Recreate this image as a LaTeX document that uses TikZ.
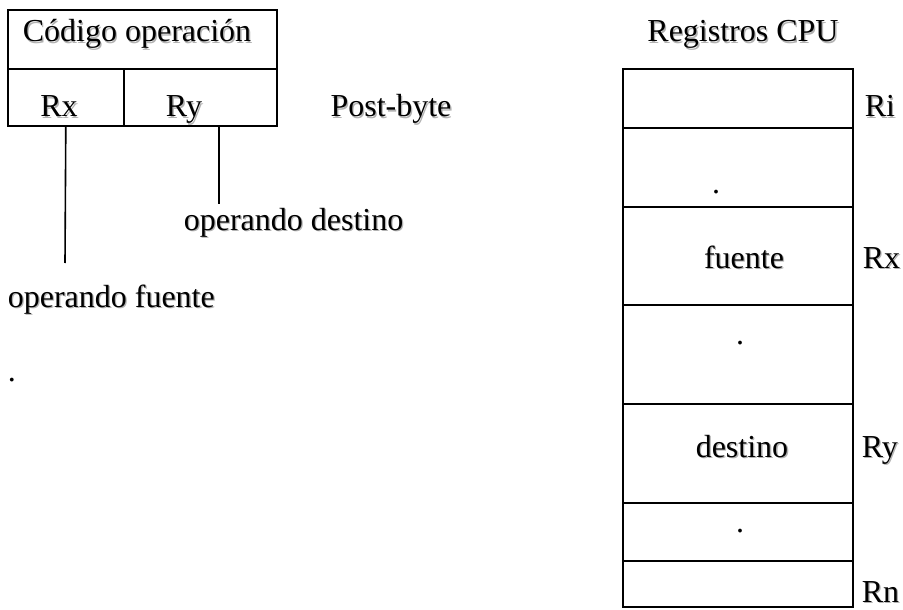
\documentclass[tikz,border=0pt]{standalone}
\usepackage{fontspec}
\setmainfont{Liberation Serif}
% text with a light drop shadow
\newcommand\shd[1]{\makebox[0pt][l]{\hspace{1.3pt}\raisebox{-1.3pt}{\color{black!30}#1}}#1}
\begin{document}
\begin{tikzpicture}[x=1pt,y=-1pt,line width=1.6pt,
  txt/.style={inner sep=0pt,anchor=base,font=\fontsize{32}{38}\selectfont},
  cell/.style={draw,inner sep=0pt,anchor=north west,minimum width=#1},
  cell/.default=230pt]
\useasboundingbox (0,0) rectangle (903,610);

% instruction format
\node[cell=269pt,minimum height=59pt] (op) at (7,9) {};
\node[cell=116pt,minimum height=57pt] (rx) at (7,68) {};
\node[cell=153pt,minimum height=57pt] (ry) at (123,68) {};
\node[txt] (optxt) at (137,42) {\shd{Código operación}};
\node[txt] (rxtxt) at (59,117) {\shd{Rx}};
\node[txt] (rytxt) at (184,117) {\shd{Ry}};
\node[txt] (post) at (391,117) {\shd{Post-byte}};

% operand pointers
\coordinate (srcend) at (65,263);
\coordinate (dstend) at (219,204);
\draw (rx.south) -- (srcend);
\draw (ry.south -| dstend) -- (dstend);
\node[txt,anchor=base west] (dst) at (183,230) {\shd{operando destino}};
\node[txt,anchor=base west] (src) at (7,307) {\shd{operando fuente}};
\node[txt] (dotl) at (12,381) {.};

% CPU register file
\node[txt] (title) at (743,42) {\shd{Registros CPU}};
\node[cell,minimum height=59pt] (r1) at (622,68) {};
\node[cell,minimum height=79pt] (r2) at (622,127) {};
\node[cell,minimum height=98pt] (r3) at (622,206) {};
\node[cell,minimum height=99pt] (r4) at (622,304) {};
\node[cell,minimum height=99pt] (r5) at (622,403) {};
\node[cell,minimum height=58pt] (r6) at (622,502) {};
\node[cell,minimum height=46pt] (r7) at (622,560) {};
\node[txt] (d1) at (716,193) {.};
\node[txt] (fte) at (744,268) {\shd{fuente}};
\node[txt] (d2) at (740,344) {.};
\node[txt] (dst2) at (742,457) {\shd{destino}};
\node[txt] (d3) at (740,532) {.};
\node[txt,anchor=base west] (lri) at (864,117) {\shd{Ri}};
\node[txt,anchor=base west] (lrx) at (862,268) {\shd{Rx}};
\node[txt,anchor=base west] (lry) at (861,457) {\shd{Ry}};
\node[txt,anchor=base west] (lrn) at (861,602) {\shd{Rn}};
\end{tikzpicture}
\end{document}
